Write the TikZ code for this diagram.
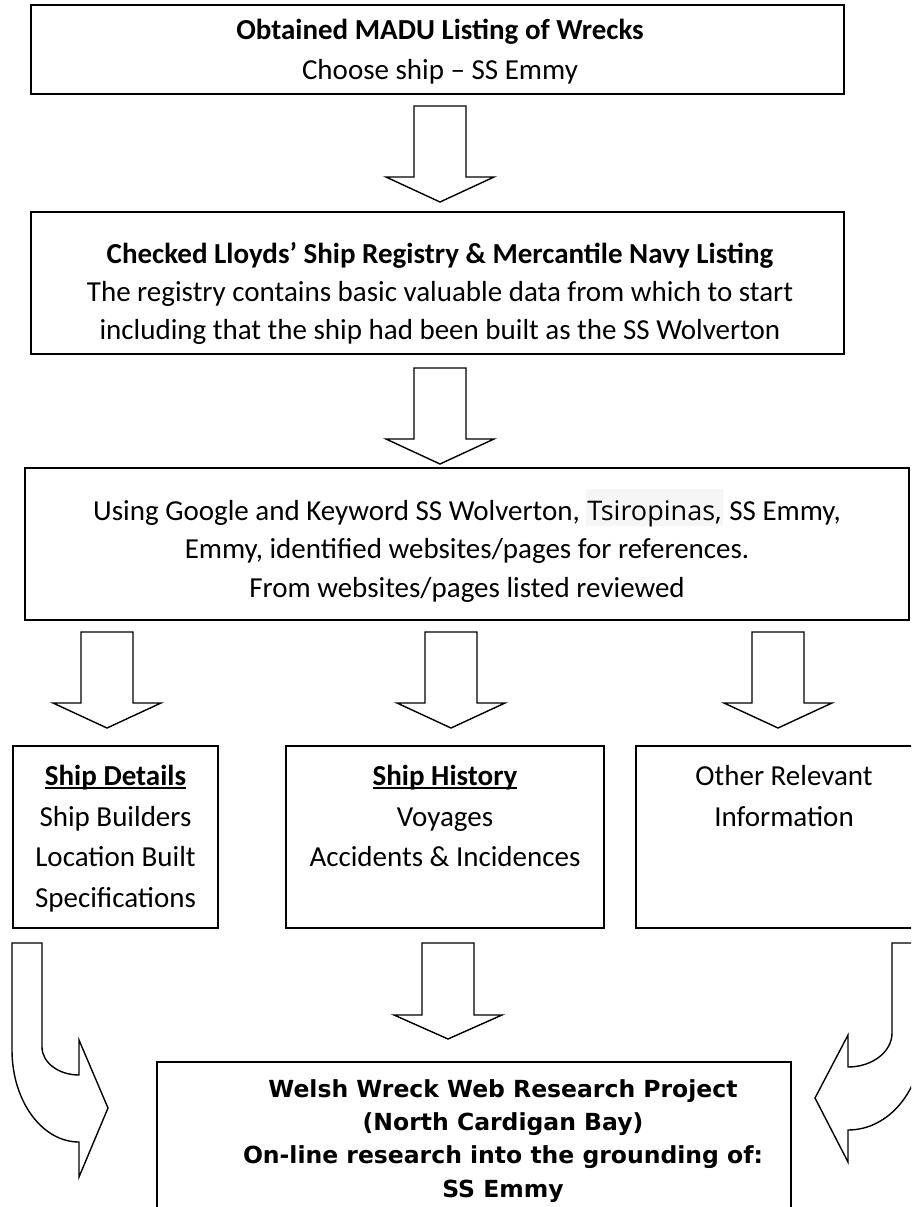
\documentclass[tikz,border=0pt]{standalone}
\usepackage{fontspec}
\setmainfont{Carlito}
\newfontfamily\verdfont{DejaVu Sans}
\newfontfamily\osfont{Open Sans}
\definecolor{hl}{gray}{0.965}
\newcommand\myul[1]{\setbox0\hbox{#1}\rlap{\rule[-3.5pt]{\wd0}{1.8pt}}\box0}
\newcommand\bdarrow[4]{\draw[barrow] (#1-26,#2) -- (#1+26,#2) -- (#1+26,#3) -- (#1+54,#3) -- (#1,#4) -- (#1-54,#3) -- (#1-26,#3) -- cycle;}
\begin{document}
\begin{tikzpicture}[x=1pt,y=-1pt,
  box/.style={draw, line width=1.8pt, inner sep=0pt, outer sep=0pt, anchor=north west},
  barrow/.style={draw, line width=1.4pt, line join=miter, fill=white},
  txt/.style={inner sep=0pt, anchor=base, font=\fontsize{29}{35}\selectfont},
  btxt/.style={inner sep=0pt, anchor=base, font=\verdfont\bfseries\fontsize{23.5}{28}\selectfont}]
\useasboundingbox (0,0) rectangle (911,1207);
\clip (0,0) rectangle (911,1207);
\fill[white] (0,0) rectangle (911,1207);

% boxes
\node[box, minimum width=813pt, minimum height=89pt] (b1) at (31,5) {};
\node[box, minimum width=813pt, minimum height=142pt] (b2) at (31,212) {};
\node[box, minimum width=884pt, minimum height=152pt] (b3) at (25,468) {};
\node[box, minimum width=205pt, minimum height=182pt] (bA) at (13,746) {};
\node[box, minimum width=318pt, minimum height=182pt] (bB) at (286,746) {};
\node[box, minimum width=296pt, minimum height=182pt] (bC) at (636,746) {};
\node[box, minimum width=634pt, minimum height=180pt] (b5) at (157,1062) {};

% texts
\node[txt] (t1a) at (440,40) {\bfseries Obtained MADU Listing of Wrecks};
\node[txt] (t1b) at (440,79) {Choose ship – SS Emmy};

\node[txt] (t2a) at (440,263) {\bfseries Checked Lloyds’ Ship Registry \& Mercantile Navy Listing};
\node[txt] (t2b) at (440,301) {The registry contains basic valuable data from which to start};
\node[txt] (t2c) at (440,339) {including that the ship had been built as the SS Wolverton};

\node[txt] (t3a) at (467,520) {Using Google and Keyword SS Wolverton, {\setlength{\fboxsep}{0pt}\colorbox{hl}{\kern1pt\rule[-5pt]{0pt}{36pt}\osfont\fontsize{27}{30}\selectfont Tsiropinas,\kern1pt}} SS Emmy,};
\node[txt] (t3b) at (467,558) {Emmy, identified websites/pages for references.};
\node[txt] (t3c) at (467,597) {From websites/pages listed reviewed};

\node[txt] (tAa) at (115.5,785) {\myul{\bfseries Ship Details}};
\node[txt] (tAb) at (115.5,826) {Ship Builders};
\node[txt] (tAc) at (115.5,866) {Location Built};
\node[txt] (tAd) at (115.5,907) {Specifications};

\node[txt] (tBa) at (445,785) {\myul{\bfseries Ship History}};
\node[txt] (tBb) at (445,826) {Voyages};
\node[txt] (tBc) at (445,866) {Accidents \& Incidences};

\node[txt] (tCa) at (784,785) {Other Relevant};
\node[txt] (tCb) at (784,826) {Information};

\node[btxt] (t5a) at (503,1097) {Welsh Wreck Web Research Project};
\node[btxt] (t5b) at (503,1130) {(North Cardigan Bay)};
\node[btxt] (t5c) at (503,1163) {On-line research into the grounding of:};
\node[btxt] (t5d) at (503,1197) {SS Emmy};

% block arrows
\bdarrow{440}{106}{177}{202}
\bdarrow{440}{368}{439}{464}
\bdarrow{107}{632}{703}{728}
\bdarrow{451}{632}{703}{728}
\bdarrow{778}{632}{703}{728}
\bdarrow{448}{943}{1015}{1039}

% curved arrows
\draw[barrow] (12,943) -- (42,943) -- (42,1047) .. controls (42,1062.5) and (58.6,1075) .. (79,1075)
  -- (79,1040) -- (108,1108) -- (79,1177) -- (79,1142) .. controls (42,1142) and (12,1101) .. (12,1050) -- cycle;
\draw[barrow] (922,943) -- (892,943) -- (892,1033) .. controls (892,1052) and (872,1067) .. (848,1067)
  -- (848,1035) -- (815,1098) -- (848,1162) -- (848,1130) .. controls (889,1130) and (922,1090) .. (922,1040) -- cycle;
\end{tikzpicture}
\end{document}
